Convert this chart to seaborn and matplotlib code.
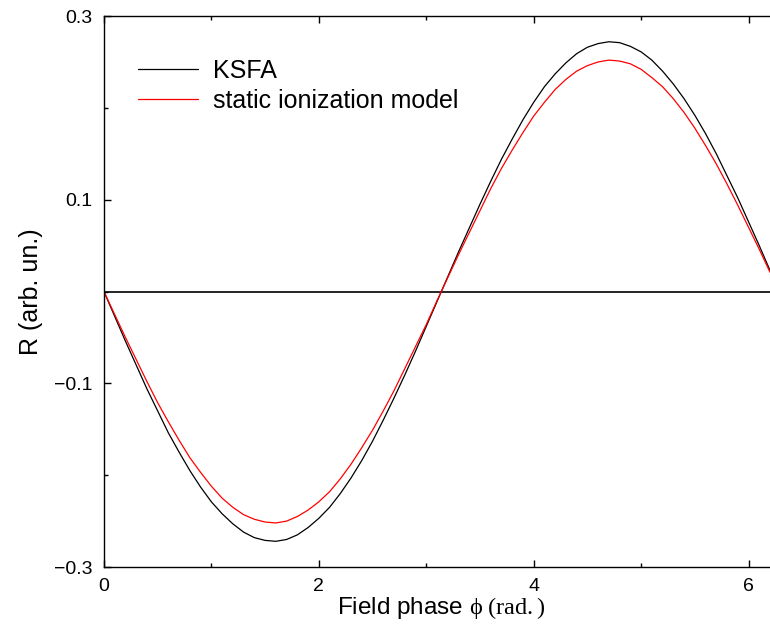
import numpy as np
import pandas as pd
import matplotlib
matplotlib.use("Agg")
import matplotlib.pyplot as plt
import seaborn as sns
from matplotlib.ticker import MultipleLocator

# field phase (rad.), sampled along the curves
phase = [0.0, 0.1, 0.2, 0.3, 0.4, 0.5, 0.6, 0.7, 0.8, 0.9,
         1.0, 1.1, 1.2, 1.3, 1.4, 1.5, 1.6, 1.7, 1.8, 1.9,
         2.0, 2.1, 2.2, 2.3, 2.4, 2.5, 2.6, 2.7, 2.8, 2.9,
         3.0, 3.1, 3.2, 3.3, 3.4, 3.5, 3.6, 3.7, 3.8, 3.9,
         4.0, 4.1, 4.2, 4.3, 4.4, 4.5, 4.6, 4.7, 4.8, 4.9,
         5.0, 5.1, 5.2, 5.3, 5.4, 5.5, 5.6, 5.7, 5.8, 5.9,
         6.0, 6.1, 6.2]

ksfa = [0.0, -0.027, -0.054, -0.080, -0.106, -0.130, -0.154, -0.175, -0.195, -0.213,
        -0.229, -0.242, -0.253, -0.262, -0.268, -0.271, -0.272, -0.270, -0.265, -0.257,
        -0.247, -0.235, -0.220, -0.203, -0.184, -0.163, -0.140, -0.116, -0.091, -0.065,
        -0.038, -0.011, 0.016, 0.043, 0.069, 0.095, 0.120, 0.144, 0.166, 0.187,
        0.206, 0.223, 0.237, 0.249, 0.259, 0.266, 0.270, 0.272, 0.271, 0.267,
        0.261, 0.252, 0.240, 0.226, 0.210, 0.192, 0.172, 0.150, 0.126, 0.102,
        0.076, 0.050, 0.023]

static = [0.0, -0.025, -0.050, -0.074, -0.098, -0.121, -0.142, -0.162, -0.181, -0.197,
          -0.212, -0.225, -0.235, -0.243, -0.248, -0.251, -0.252, -0.250, -0.245, -0.238,
          -0.229, -0.218, -0.204, -0.188, -0.170, -0.151, -0.130, -0.108, -0.084, -0.060,
          -0.036, -0.010, 0.015, 0.040, 0.064, 0.088, 0.112, 0.134, 0.154, 0.173,
          0.191, 0.206, 0.220, 0.231, 0.240, 0.246, 0.250, 0.252, 0.251, 0.248,
          0.242, 0.233, 0.223, 0.210, 0.195, 0.178, 0.159, 0.139, 0.117, 0.094,
          0.070, 0.046, 0.021]

labels = ["KSFA", "static ionization model"]
colors = ["black", "red"]

df = pd.concat([
    pd.DataFrame({"phase": phase, "R": ksfa, "model": labels[0]}),
    pd.DataFrame({"phase": phase, "R": static, "model": labels[1]}),
])

sns.set_style("ticks")
plt.rcParams["font.family"] = ["Liberation Sans", "DejaVu Sans"]
plt.rcParams["mathtext.fontset"] = "custom"
plt.rcParams["mathtext.rm"] = "Liberation Serif"
plt.rcParams["mathtext.it"] = "Liberation Serif:italic"
for key in ["text.color", "axes.labelcolor", "xtick.color", "ytick.color"]:
    plt.rcParams[key] = "black"

fig = plt.figure(figsize=(7.7, 6.24), dpi=100)
ax = fig.add_axes([0.135, 0.0913, 0.865, 0.8830])

ax.axhline(0, color="black", lw=1.2, zorder=1)
sns.lineplot(data=df, x="phase", y="R", hue="model", palette=colors,
             linewidth=0.9, ax=ax, zorder=2)

ax.set_xlim(0, 6.2)
ax.set_ylim(-0.3, 0.3)
ax.xaxis.set_major_locator(MultipleLocator(2))
ax.xaxis.set_minor_locator(MultipleLocator(1))
ax.set_yticks([-0.3, -0.1, 0.1, 0.3])
ax.set_yticklabels(["\u22120.3", "\u22120.1", "0.1", "0.3"])
ax.yaxis.set_minor_locator(MultipleLocator(0.1))
ax.tick_params(which="both", direction="in", top=True, right=False,
               labelsize=14, width=1.0, color="black", labelcolor="black", pad=8)
ax.tick_params(which="major", length=5)
ax.tick_params(which="minor", length=3)
ax.spines["right"].set_visible(False)
for s in ["left", "bottom", "top"]:
    ax.spines[s].set_linewidth(1.0)
    ax.spines[s].set_color("black")

ax.set_xlabel(r"Field phase $\mathrm{\phi\ (rad.)}$", fontsize=17.5, labelpad=0)
ax.xaxis.label.set_x(0.507)
ax.set_ylabel("R (arb. un.)", fontsize=18, labelpad=8)

ax.legend(frameon=False, fontsize=18, loc="upper left",
          bbox_to_anchor=(0.051, 0.922), borderpad=0, borderaxespad=0,
          handlelength=2.4, handletextpad=0.6, labelspacing=0.22)

plt.savefig("out.png", dpi=100)
